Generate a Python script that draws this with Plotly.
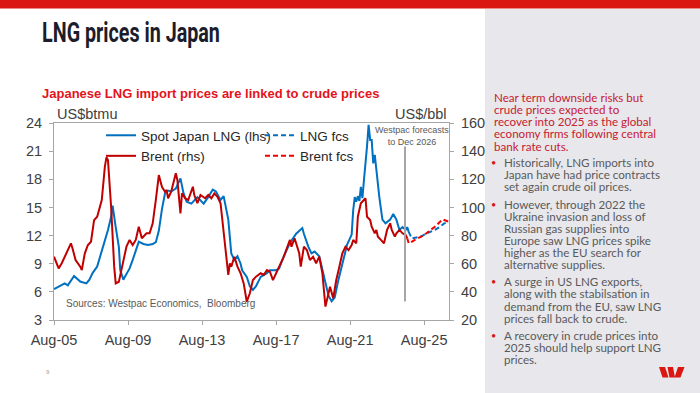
import plotly.graph_objects as go

# ---------------- data ----------------
lng_dates = ["2005-08","2005-11","2006-03","2006-05","2006-09","2007-01","2007-05","2007-07","2007-09","2007-12",
             "2008-02","2008-04","2008-06","2008-07","2008-09","2008-10","2008-12","2009-02","2009-03","2009-05",
             "2009-06","2009-09","2009-11","2010-01","2010-03","2010-06","2010-09","2010-12","2011-02","2011-04",
             "2011-06","2011-08","2011-10","2011-12","2012-03","2012-06","2012-08","2012-10","2013-01","2013-05",
             "2013-09","2013-12","2014-03","2014-05","2014-08","2014-10","2015-01","2015-03","2015-05","2015-07",
             "2015-09","2015-10","2016-01","2016-03","2016-05","2016-07","2016-10","2017-02","2017-04","2017-08",
             "2017-10","2018-01","2018-03","2018-05","2018-09","2019-01","2019-02","2019-05","2019-07","2019-09",
             "2019-12","2020-02","2020-04","2020-06","2020-08","2020-10","2020-12","2021-02","2021-04","2021-06",
             "2021-09","2021-10","2021-11","2021-12","2022-01","2022-02","2022-03","2022-04","2022-05","2022-06",
             "2022-07","2022-08","2022-09","2022-10","2022-11","2022-12","2023-01","2023-03","2023-05","2023-07",
             "2023-10","2023-12","2024-02","2024-04","2024-06","2024-08","2024-09","2024-10"]
lng_values = [6.3,6.6,6.9,6.7,7.7,7.1,6.9,7.3,8.0,8.7,
              9.8,10.8,12.1,12.6,14.0,15.2,12.9,10.8,8.3,7.3,
              7.6,8.5,9.4,10.5,11.35,11.1,11.0,11.1,11.3,12.5,
              14.8,16.5,16.8,16.7,17.0,18.1,16.5,15.6,15.4,16.1,
              15.4,16.1,16.9,16.7,15.8,16.2,13.7,10.1,9.4,9.8,
              9.0,8.3,7.6,6.6,6.2,6.6,7.6,8.0,8.3,8.3,
              8.5,9.8,10.5,11.2,12.2,12.8,12.2,10.8,10.1,10.3,
              9.8,8.3,6.9,5.6,5.0,5.4,7.0,8.3,9.8,11.0,
              12.1,14.7,16.1,15.6,16.2,15.7,17.2,16.0,17.9,19.5,
              21.5,23.8,22.2,22.2,19.7,20.6,19.0,16.1,13.7,13.3,
              13.7,14.3,13.7,12.6,12.9,12.6,12.9,12.4]

lng_fc_dates = ["2024-10","2024-12","2025-03","2025-06","2025-09","2025-12","2026-03","2026-06","2026-09","2026-12"]
lng_fc_values = [12.4,11.7,11.8,11.9,12.2,12.4,12.6,12.9,13.3,13.4]

brent_dates = ["2005-08","2005-11","2006-01","2006-03","2006-05","2006-07","2006-08","2006-10","2007-01","2007-02",
               "2007-04","2007-06","2007-08","2007-10","2007-12","2008-03","2008-05","2008-06","2008-07","2008-09",
               "2008-11","2008-12","2009-02","2009-05","2009-07","2009-09","2009-11","2010-01","2010-03","2010-05",
               "2010-08","2010-10","2010-12","2011-02","2011-04","2011-06","2011-08","2011-09","2011-10","2011-12",
               "2012-01","2012-03","2012-04","2012-06","2012-07","2012-09","2012-11","2013-02","2013-03","2013-05",
               "2013-07","2013-10","2013-12","2014-02","2014-04","2014-06","2014-08","2014-10","2015-01","2015-02",
               "2015-03","2015-05","2015-07","2015-09","2015-11","2016-01","2016-03","2016-05","2016-07","2016-10",
               "2016-12","2017-02","2017-04","2017-06","2017-08","2017-10","2018-01","2018-03","2018-05","2018-06",
               "2018-08","2018-11","2018-12","2019-02","2019-04","2019-06","2019-08","2019-10","2019-12","2020-02",
               "2020-04","2020-06","2020-07","2020-09","2020-11","2021-01","2021-03","2021-05","2021-07","2021-09",
               "2021-10","2021-12","2022-01","2022-03","2022-05","2022-06","2022-07","2022-09","2022-10","2022-12",
               "2023-01","2023-02","2023-04","2023-06","2023-08","2023-10","2023-11","2024-01","2024-02","2024-04",
               "2024-06","2024-08","2024-09"]
brent_values = [65.0,56.7,60.3,65.0,69.7,74.5,71.0,62.6,57.9,55.5,
                67.4,73.3,75.6,91.0,93.4,105.3,129.0,135.6,133.7,100.5,
                57.9,46.0,47.2,62.6,72.1,76.9,73.3,76.9,86.3,78.1,
                81.6,81.6,88.7,105.3,123.0,114.7,111.2,112.4,106.5,111.2,
                116.0,124.3,119.5,95.8,110.0,106.5,105.3,114.7,108.8,103.0,
                108.8,106.5,108.8,106.5,110.0,107.6,103.0,84.0,52.0,60.3,
                57.9,65.0,57.9,53.2,46.0,33.0,39.0,48.4,50.8,53.2,
                52.0,55.5,54.3,48.4,53.2,57.9,65.0,71.0,76.9,72.1,
                78.1,67.4,57.9,72.1,69.7,62.6,65.0,60.3,65.0,53.2,
                29.5,39.0,43.7,35.4,48.4,57.9,67.4,72.1,69.7,73.3,
                76.9,74.5,93.4,103.0,105.3,106.5,93.4,91.0,86.3,81.6,
                84.0,79.2,76.9,74.5,84.0,88.7,84.0,79.2,81.6,84.0,
                81.6,80.4,78.1]

brent_fc_dates = ["2024-09","2024-10","2025-02","2025-08","2026-03","2026-08","2026-12"]
brent_fc_values = [78.1,74.5,76.9,80.4,86.3,91.5,89.8]

x_tick_vals = ["2005-08-01","2009-08-01","2013-08-01","2017-08-01","2021-08-01","2025-08-01"]
x_tick_text = ["Aug-05","Aug-09","Aug-13","Aug-17","Aug-21","Aug-25"]

heading_lines = ["Near term downside risks but", "crude prices expected to",
                 "recover into 2025 as the global", "economy firms following central",
                 "bank rate cuts."]
bullets = [
    ["Historically, LNG imports into", "Japan have had price contracts", "set again crude oil prices."],
    ["However, through 2022 the", "Ukraine invasion and loss of", "Russian gas supplies into",
     "Europe saw LNG prices spike", "higher as the EU search for", "alternative supplies."],
    ["A surge in US LNG exports,", "along with the stabilsation in", "demand from the EU, saw LNG",
     "prices fall back to crude."],
    ["A recovery in crude prices into", "2025 should help support LNG", "prices."],
]

# ---------------- helpers (pixel -> paper) ----------------
L, R, T, B = 54, 449, 123, 320
W_, H_ = 700, 393
def px(x):
    return (x - L) / (R - L)
def py(y):
    return (B - y) / (B - T)

BLUE = "#0070c0"
RED = "#c00000"
RED_FC = "#f00000"
TXT = "#404040"
AX = "#a6a6a6"
FONT = "Liberation Sans, Arial, sans-serif"
DASH = "5px,3px"

fig = go.Figure()
fig.add_trace(go.Scatter(x=lng_dates, y=lng_values, mode="lines", name="Spot Japan LNG (lhs)",
                         line=dict(color=BLUE, width=2), legend="legend"))
fig.add_trace(go.Scatter(x=lng_fc_dates, y=lng_fc_values, mode="lines", name="LNG fcs",
                         line=dict(color=BLUE, width=2, dash=DASH), legend="legend2"))
fig.add_trace(go.Scatter(x=brent_dates, y=brent_values, mode="lines", name="Brent (rhs)",
                         line=dict(color=RED, width=2), yaxis="y2", legend="legend"))
fig.add_trace(go.Scatter(x=brent_fc_dates, y=brent_fc_values, mode="lines", name="Brent fcs",
                         line=dict(color=RED_FC, width=2, dash=DASH), yaxis="y2", legend="legend2"))

shapes = []
shapes.append(dict(type="rect", xref="paper", yref="paper", x0=px(0), x1=px(700), y0=py(0), y1=py(8.5),
                   fillcolor="#da1710", line=dict(width=0), layer="below"))
shapes.append(dict(type="rect", xref="paper", yref="paper", x0=px(485), x1=px(700), y0=py(9), y1=py(393),
                   fillcolor="#e7e7ec", line=dict(width=0), layer="below"))
shapes.append(dict(type="line", xref="x", yref="paper", x0="2024-07-20", x1="2024-07-20",
                   y0=py(301.5), y1=py(146.5), line=dict(color="#a6a6a6", width=2)))
def poly(pts):
    d = "M " + " L ".join(f"{px(a):.5f},{py(b):.5f}" for a, b in pts) + " Z"
    return dict(type="path", xref="paper", yref="paper", path=d, fillcolor="#da1710", line=dict(width=0))
shapes.append(poly([(659, 367), (665, 367), (668.5, 377.5), (662.5, 377.5)]))
shapes.append(poly([(667.5, 367), (673, 367), (675, 377.5), (669.5, 377.5)]))
shapes.append(poly([(678, 367), (684.5, 367), (680.5, 377.5), (674.5, 377.5)]))

ann = []
ann.append(dict(text="<b>LNG prices in Japan</b>", x=px(40), y=py(33), xref="paper", yref="paper",
                xanchor="left", yanchor="middle", showarrow=False,
                font=dict(family="Roboto, Liberation Sans, sans-serif", size=27, color="#1c1c2a")))
ann.append(dict(text="<b>Japanese LNG import prices are linked to crude prices</b>", x=px(40), y=py(93),
                xref="paper", yref="paper", xanchor="left", yanchor="middle", showarrow=False,
                font=dict(family=FONT, size=13, color="#e3131b")))
ann.append(dict(text="US$btmu", x=px(55), y=py(114), xref="paper", yref="paper", xanchor="left",
                yanchor="middle", showarrow=False, font=dict(family=FONT, size=14.5, color=TXT)))
ann.append(dict(text="US$/bbl", x=px(449), y=py(114), xref="paper", yref="paper", xanchor="right",
                yanchor="middle", showarrow=False, font=dict(family=FONT, size=14.5, color=TXT)))
ann.append(dict(text="Westpac forecasts<br>to Dec 2026", x=px(412), y=py(136), xref="paper", yref="paper",
                xanchor="center", yanchor="middle", showarrow=False,
                font=dict(family=FONT, size=9, color="#595959")))
ann.append(dict(text="Sources: Westpac Economics,  Bloomberg", x=px(64), y=py(303.5), xref="paper",
                yref="paper", xanchor="left", yanchor="middle", showarrow=False,
                font=dict(family=FONT, size=10, color="#595959")))
ann.append(dict(text="9", x=px(48), y=py(372), xref="paper", yref="paper", xanchor="center",
                yanchor="middle", showarrow=False, font=dict(family=FONT, size=6, color="#a0a0a0")))

PFONT = "Lato, Open Sans, sans-serif"
ystart, step = 97, 12.25
for i, line in enumerate(heading_lines):
    ann.append(dict(text=line, x=px(491.5), y=py(ystart + i * step), xref="paper", yref="paper",
                    xanchor="left", yanchor="middle", showarrow=False,
                    font=dict(family=PFONT, size=11.6, color="#c8202f")))
ycur = 162.7
for para in bullets:
    ann.append(dict(text="•", x=px(493.5), y=py(ycur), xref="paper", yref="paper", xanchor="center",
                    yanchor="middle", showarrow=False, font=dict(family=PFONT, size=9, color="#da1710")))
    for j, line in enumerate(para):
        ann.append(dict(text=line, x=px(501.5), y=py(ycur + j * 12.1), xref="paper", yref="paper",
                        xanchor="left", yanchor="middle", showarrow=False,
                        font=dict(family=PFONT, size=11.6, color="#5a5a5a")))
    ycur += (len(para) - 1) * 12.1 + 17.2

fig.update_layout(
    width=W_, height=H_,
    margin=dict(l=L, r=W_ - R, t=T, b=H_ - B, pad=0),
    paper_bgcolor="white", plot_bgcolor="white",
    font=dict(family=FONT, color=TXT),
    xaxis=dict(type="date", range=["2005-08-01", "2026-12-05"], tickmode="array",
               tickvals=x_tick_vals, ticktext=x_tick_text, showgrid=False, zeroline=False,
               showline=True, linecolor=AX, linewidth=1, mirror=True,
               ticks="outside", ticklen=4, tickcolor=AX, tickfont=dict(size=14.5, color=TXT),
               ticklabelstandoff=3),
    yaxis=dict(range=[3, 24], tickvals=[3, 6, 9, 12, 15, 18, 21, 24], showgrid=False, zeroline=False,
               showline=True, linecolor=AX, linewidth=1, mirror=True,
               ticks="outside", ticklen=4, tickcolor=AX, tickfont=dict(size=14.5, color=TXT),
               ticklabelstandoff=4),
    yaxis2=dict(range=[20, 160], tickvals=[20, 40, 60, 80, 100, 120, 140, 160], overlaying="y",
                side="right", showgrid=False, zeroline=False, showline=True, linecolor=AX, linewidth=1,
                ticks="outside", ticklen=4, tickcolor=AX, tickfont=dict(size=14.5, color=TXT),
                ticklabelstandoff=4),
    legend=dict(x=px(101), y=py(120), xanchor="left", yanchor="top", bgcolor="rgba(0,0,0,0)",
                font=dict(size=13.5, color="#262626"), itemwidth=30, tracegroupgap=0),
    legend2=dict(x=px(260), y=py(120), xanchor="left", yanchor="top", bgcolor="rgba(0,0,0,0)",
                 font=dict(size=13.5, color="#262626"), itemwidth=30, tracegroupgap=0),
    shapes=shapes, annotations=ann,
)

post = """
document.body.style.margin = '0';
document.body.style.padding = '0';
document.querySelectorAll('text.annotation-text').forEach(function(el){
  if (el.textContent === 'LNG prices in Japan') {
    var bb = el.getBBox();
    var s = 178 / bb.width;
    el.setAttribute('transform', 'translate(' + (bb.x * (1 - s)) + ',0) scale(' + s + ',1)');
  }
});
"""
fig.write_html("out.html", post_script=post, config={"displayModeBar": False})
